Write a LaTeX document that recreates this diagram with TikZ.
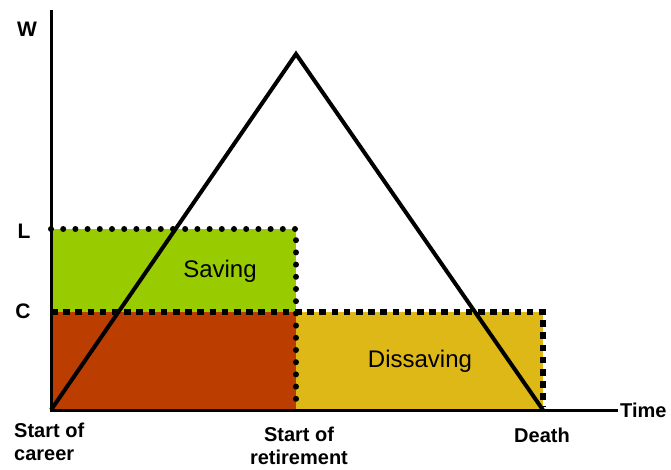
\documentclass[tikz,border=0pt]{standalone}
\usepackage{fontspec}
\setmainfont{Liberation Sans}
\definecolor{savegreen}{HTML}{99CC00}
\definecolor{basebrown}{HTML}{BB3D00}
\definecolor{dissgold}{HTML}{DDB816}
\begin{document}
\begin{tikzpicture}[x=1pt, y=-1pt,
        axislabel/.style={inner sep=0pt, font=\fontsize{21}{24}\selectfont\bfseries},
        arealabel/.style={inner sep=0pt, font=\fontsize{24}{28}\selectfont},
        timelabel/.style={inner sep=0pt, font=\fontsize{20}{23}\selectfont\bfseries},
        rounddots/.style={line width=6pt, line cap=round, dash pattern=on 0pt off 12.2pt},
        squaredots/.style={line width=6.5pt, dash pattern=on 6.5pt off 5.7pt}]
            \useasboundingbox (0,0) rectangle (671,470);

            \coordinate (origin) at (51,410);
            \coordinate (ytop) at (51,10);
            \coordinate (xend) at (618,410);
            \coordinate (retire) at (296,410);
            \coordinate (death) at (543,410);
            \coordinate (peak) at (296,54);

            % areas
            \fill[savegreen] (51,229) rectangle (296,312);
            \fill[basebrown] (51,312) rectangle (296,410);
            \fill[dissgold] (296,312) rectangle (543,410);

            \draw[rounddots] (51,229) -- (296,229) -- (retire);
            \draw[squaredots] (51,312) -- (543,312) -- (543,406);

            % axes and wealth
            \draw[line width=3pt] (ytop) -- (origin) -- (xend);
            \draw[line width=4pt, line join=miter] (origin) -- (peak) -- (death);

            \node (w) [axislabel] at (27,29) {W};
            \node (l) [axislabel] at (24,231) {L};
            \node (c) [axislabel] at (23,311) {C};
            \node (saving) [arealabel] at (220,271) {Saving};
            \node (dissaving) [arealabel] at (420,361) {Dissaving};
            \node (time) [timelabel, anchor=west] at (620,410) {Time};
            \node (career) [timelabel, align=left, anchor=west] at (14,442) {Start of\\career};
            \node (retirement) [timelabel, align=center] at (299,446) {Start of\\retirement};
            \node (death label) [timelabel] at (542,435) {Death};
        \end{tikzpicture}
\end{document}
